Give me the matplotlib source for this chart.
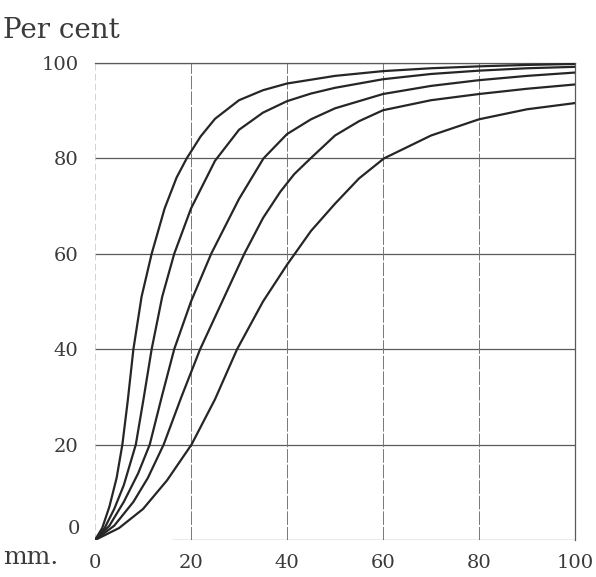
import numpy as np
import matplotlib
matplotlib.use('Agg')
import matplotlib.pyplot as plt

# values (x in mm, y in per cent)
x1 = [0, 1.5, 3, 4.5, 5.7, 6.8, 8.0, 9.7, 11.8, 14.5, 17, 19.1, 22, 25, 30, 35, 40, 50, 60, 70, 80, 90, 100]
y1 = [0, 2.5, 7, 13, 20, 29, 40, 51, 60, 69.5, 76, 80, 84.6, 88.3, 92.2, 94.3, 95.7, 97.3, 98.3, 98.9, 99.3, 99.6, 99.8]

x2 = [0, 2, 4, 6, 8.5, 10.1, 11.8, 14, 16.5, 20, 25, 30, 35, 40, 45, 50, 60, 70, 80, 90, 100]
y2 = [0, 2.5, 6.5, 11.5, 20, 29.5, 40, 51, 60, 69.5, 79.5, 86, 89.6, 92, 93.6, 94.8, 96.6, 97.7, 98.4, 98.9, 99.2]

x3 = [0, 3, 6, 9, 11.4, 13.9, 16.5, 20, 24.2, 30, 35.1, 40, 45, 50, 60, 70, 80, 90, 100]
y3 = [0, 3, 8, 14, 20, 30, 40, 50, 60, 71.5, 80, 85.1, 88.2, 90.5, 93.5, 95.2, 96.4, 97.3, 98.0]

x4 = [0, 4, 8, 11, 14.3, 18, 21.9, 26.5, 31.1, 35, 38.6, 41.5, 44.9, 50, 55, 60, 70, 80, 90, 100]
y4 = [0, 3, 8, 13, 20, 30, 40, 50, 60, 67.5, 73, 76.7, 80, 84.8, 87.8, 90.1, 92.2, 93.5, 94.6, 95.5]

x5 = [0, 5, 10, 15, 20.1, 25, 29.6, 35, 40, 45, 50, 55, 60.2, 70, 80, 90, 100]
y5 = [0, 2.5, 6.5, 12.5, 20, 29.5, 40, 50, 57.7, 64.8, 70.5, 75.8, 80, 84.8, 88.2, 90.3, 91.6]

xticks = [0, 20, 40, 60, 80, 100]
yticks = [20, 40, 60, 80, 100]

plt.rcParams['font.family'] = ['DejaVu Serif']

fig = plt.figure(figsize=(5.96, 5.77), dpi=100)
ax = fig.add_axes([0.1594, 0.0641, 0.8054, 0.8267])

ink = '#262626'
grid = '#5a5a5a'
text_c = '#3a3a3a'

# grid lines
for yv in yticks:
    ax.axhline(yv, color=grid, lw=0.9, zorder=1)
for xv in xticks[1:]:
    ax.axvline(xv, color='#777777', lw=0.7, ls=(0, (14, 2)), zorder=1)
ax.hlines(0, 16, 100, color=grid, lw=0.9, zorder=1)
ax.vlines(0, 0, 100, color='#cccccc', lw=0.6, ls=(0, (8, 4)), zorder=1)

for xs, ys in [(x1, y1), (x2, y2), (x3, y3), (x4, y4), (x5, y5)]:
    ax.plot(xs, ys, color=ink, lw=1.6, solid_capstyle='round',
            solid_joinstyle='round', zorder=3)

ax.set_xlim(0, 100)
ax.set_ylim(0, 100)
for s in ['left', 'bottom']:
    ax.spines[s].set_visible(False)
for s in ['top', 'right']:
    ax.spines[s].set_color(grid)
    ax.spines[s].set_linewidth(0.9)

ax.set_xticks(xticks)
ax.set_xticklabels([str(v) for v in xticks])
ax.set_yticks(yticks)
ax.set_yticklabels([str(v) for v in yticks])
ax.tick_params(length=0, labelsize=14, colors=text_c)
ax.tick_params(axis='x', pad=10)
ax.tick_params(axis='y', pad=12)

ax.text(-3.0, 2.4, '0', ha='right', va='center', fontsize=14, color=text_c)
fig.text(0.005, 0.022, 'mm.', ha='left', va='baseline', fontsize=18, color=text_c)
fig.text(0.005, 0.935, 'Per cent', ha='left', va='baseline', fontsize=20, color=text_c)

fig.savefig('out.png', dpi=100)
